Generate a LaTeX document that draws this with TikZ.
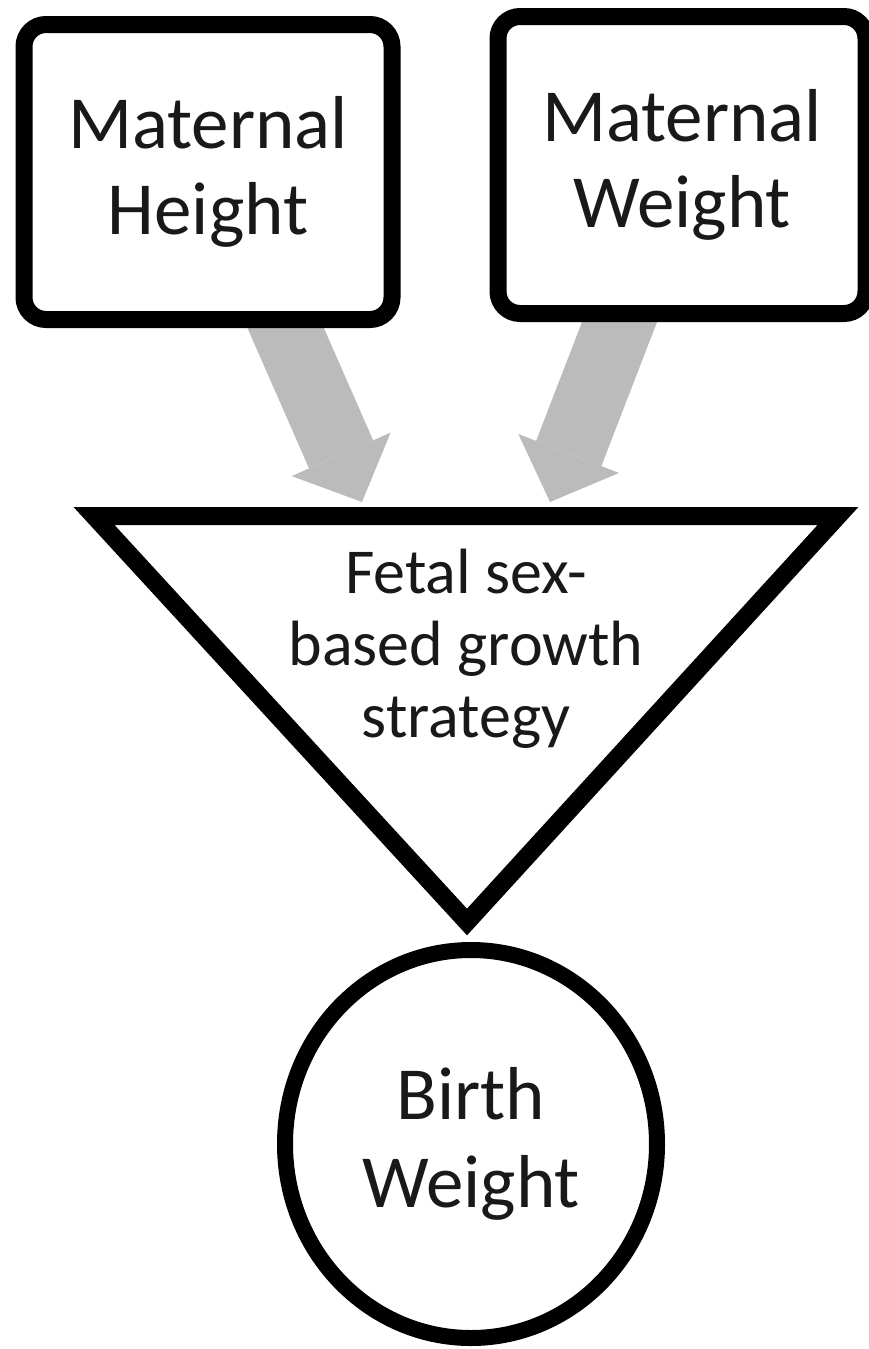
\documentclass[tikz,border=0pt]{standalone}
\usepackage{fontspec}
\setmainfont{Carlito}
\usetikzlibrary{arrows.meta,shapes.geometric,backgrounds}
\definecolor{arrowgray}{RGB}{187,187,187}

\begin{document}
\begin{tikzpicture}[x=1pt,y=-1pt,
    box/.style={draw=black,fill=white,line width=17pt,rounded corners=22pt,align=center,text=black!90,font=\fontsize{75}{86}\selectfont},
    circ/.style={ellipse,draw=black,fill=white,line width=16pt,align=center,text=black!90,font=\fontsize{75}{88}\selectfont},
    tribox/.style={draw=black,fill=white,line width=18pt,line join=miter},
    bigarrow/.style={color=arrowgray,line width=70pt,-{Triangle[length=52pt,width=108pt,line width=0pt]}}]
      \useasboundingbox (0,0) rectangle (868,1349);

      \node[box,minimum width=368pt,minimum height=295pt] (mh) at (208,172) {Maternal\\Height};
      \node[box,minimum width=368pt,minimum height=297pt] (mw) at (682,165) {Maternal\\Weight};

      % triangle corners
      \coordinate (tl) at (94,516);
      \coordinate (tr) at (838,516);
      \coordinate (tb) at (467,922);
      \draw[tribox] (tl) -- (tr) -- (tb) -- cycle;
      \node[align=center,text=black!90,font=\fontsize{64}{72}\selectfont] (fs) at (466,649) {Fetal sex-\\based growth\\strategy};

      \node[circ,minimum width=372pt,minimum height=388pt] (bw) at (471,1144) {Birth\\Weight};

      \coordinate (inh) at (362,502);
      \coordinate (inw) at (550,502);

      \begin{scope}[on background layer]
      \draw[bigarrow] ([xshift=68pt,yshift=22pt]mh.south) -- (inh);
      \draw[bigarrow] ([xshift=-54pt,yshift=22pt]mw.south) -- (inw);
      \end{scope}
\end{tikzpicture}
\end{document}
